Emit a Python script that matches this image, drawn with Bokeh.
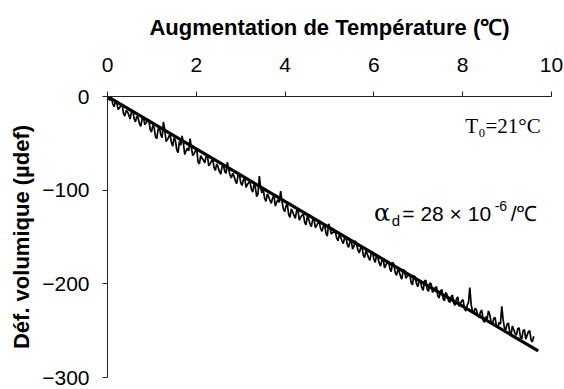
from bokeh.plotting import figure
from bokeh.models import Range1d, Label, FixedTicker
from bokeh.embed import file_html
from bokeh.resources import INLINE

# ---- data ----
temp_rise = [
    0.00, 0.03, 0.06, 0.09, 0.12, 0.15, 0.18, 0.21, 0.24, 0.27,
    0.30, 0.33, 0.36, 0.39, 0.42, 0.45, 0.48, 0.51, 0.54, 0.57,
    0.60, 0.63, 0.66, 0.69, 0.72, 0.75, 0.78, 0.81, 0.84, 0.87,
    0.90, 0.93, 0.96, 0.99, 1.02, 1.05, 1.08, 1.11, 1.14, 1.17,
    1.20, 1.23, 1.26, 1.29, 1.32, 1.35, 1.38, 1.41, 1.44, 1.47,
    1.50, 1.53, 1.56, 1.59, 1.62, 1.65, 1.68, 1.71, 1.74, 1.77,
    1.80, 1.83, 1.86, 1.89, 1.92, 1.95, 1.98, 2.01, 2.04, 2.07,
    2.10, 2.13, 2.16, 2.19, 2.22, 2.25, 2.28, 2.31, 2.34, 2.37,
    2.40, 2.43, 2.46, 2.49, 2.52, 2.55, 2.58, 2.61, 2.64, 2.67,
    2.70, 2.73, 2.76, 2.79, 2.82, 2.85, 2.88, 2.91, 2.94, 2.97,
    3.00, 3.03, 3.06, 3.09, 3.12, 3.15, 3.18, 3.21, 3.24, 3.27,
    3.30, 3.33, 3.36, 3.39, 3.42, 3.45, 3.48, 3.51, 3.54, 3.57,
    3.60, 3.63, 3.66, 3.69, 3.72, 3.75, 3.78, 3.81, 3.84, 3.87,
    3.90, 3.93, 3.96, 3.99, 4.02, 4.05, 4.08, 4.11, 4.14, 4.17,
    4.20, 4.23, 4.26, 4.29, 4.32, 4.35, 4.38, 4.41, 4.44, 4.47,
    4.50, 4.53, 4.56, 4.59, 4.62, 4.65, 4.68, 4.71, 4.74, 4.77,
    4.80, 4.83, 4.86, 4.89, 4.92, 4.95, 4.98, 5.01, 5.04, 5.07,
    5.10, 5.13, 5.16, 5.19, 5.22, 5.25, 5.28, 5.31, 5.34, 5.37,
    5.40, 5.43, 5.46, 5.49, 5.52, 5.55, 5.58, 5.61, 5.64, 5.67,
    5.70, 5.73, 5.76, 5.79, 5.82, 5.85, 5.88, 5.91, 5.94, 5.97,
    6.00, 6.03, 6.06, 6.09, 6.12, 6.15, 6.18, 6.21, 6.24, 6.27,
    6.30, 6.33, 6.36, 6.39, 6.42, 6.45, 6.48, 6.51, 6.54, 6.57,
    6.60, 6.63, 6.66, 6.69, 6.72, 6.75, 6.78, 6.81, 6.84, 6.87,
    6.90, 6.93, 6.96, 6.99, 7.02, 7.05, 7.08, 7.11, 7.14, 7.17,
    7.20, 7.23, 7.26, 7.29, 7.32, 7.35, 7.38, 7.41, 7.44, 7.47,
    7.50, 7.53, 7.56, 7.59, 7.62, 7.65, 7.68, 7.71, 7.74, 7.77,
    7.80, 7.83, 7.86, 7.89, 7.92, 7.95, 7.98, 8.01, 8.04, 8.07,
    8.10, 8.13, 8.16, 8.19, 8.22, 8.25, 8.28, 8.31, 8.34, 8.37,
    8.40, 8.43, 8.46, 8.49, 8.52, 8.55, 8.58, 8.61, 8.64, 8.67,
    8.70, 8.73, 8.76, 8.79, 8.82, 8.85, 8.88, 8.91, 8.94, 8.97,
    9.00, 9.03, 9.06, 9.09, 9.12, 9.15, 9.18, 9.21, 9.24, 9.27,
    9.30, 9.33, 9.36, 9.39, 9.42, 9.45, 9.48, 9.51, 9.54, 9.57,
    9.60]
vol_strain = [
    0, -3, -4, -2, -8, -11, -5, -7, -14, -12,
    -10, -9, -18, -21, -15, -16, -20, -24, -16, -15,
    -24, -27, -21, -23, -29, -32, -24, -22, -30, -28,
    -26, -25, -35, -38, -31, -33, -43, -45, -35, -33,
    -41, -44, -27, -36, -48, -46, -43, -40, -49, -53,
    -44, -47, -57, -60, -48, -52, -42, -50, -62, -58,
    -55, -58, -45, -55, -63, -61, -58, -56, -70, -72,
    -63, -66, -68, -71, -64, -63, -74, -72, -69, -67,
    -76, -79, -72, -75, -80, -83, -75, -73, -80, -82,
    -70, -78, -84, -87, -82, -85, -90, -93, -84, -83,
    -92, -95, -89, -87, -97, -94, -92, -91, -99, -102,
    -94, -97, -107, -104, -85, -98, -103, -100, -109, -112,
    -104, -107, -111, -114, -108, -106, -117, -113, -110, -113,
    -101, -112, -120, -123, -117, -115, -126, -129, -120, -123,
    -127, -130, -122, -121, -132, -129, -127, -125, -134, -137,
    -128, -131, -136, -139, -132, -130, -140, -138, -135, -134,
    -141, -144, -139, -137, -146, -149, -136, -140, -147, -145,
    -145, -144, -151, -154, -148, -150, -154, -157, -151, -150,
    -158, -161, -155, -154, -163, -160, -154, -158, -164, -167,
    -162, -160, -169, -172, -165, -168, -172, -175, -167, -166,
    -174, -177, -169, -172, -178, -181, -175, -174, -183, -180,
    -177, -176, -184, -187, -177, -179, -188, -191, -185, -187,
    -192, -195, -185, -186, -194, -192, -191, -190, -199, -201,
    -191, -193, -200, -203, -196, -198, -204, -207, -197, -196,
    -206, -208, -199, -200, -209, -207, -204, -203, -213, -215,
    -208, -206, -216, -218, -209, -212, -218, -220, -214, -212,
    -221, -223, -216, -214, -224, -221, -218, -217, -227, -229,
    -223, -220, -204, -222, -229, -231, -226, -228, -234, -236,
    -230, -228, -239, -241, -235, -238, -229, -233, -241, -243,
    -237, -236, -245, -247, -241, -243, -224, -238, -247, -249,
    -243, -242, -252, -254, -245, -249, -253, -255, -248, -247,
    -257, -259, -250, -249, -259, -255, -251, -250, -260, -262,
    -256]
fit_x = [0.0, 9.7]
fit_y = [0.0, -271.6]
x_ticks = [0, 2, 4, 6, 8, 10]
y_ticks = [-300, -200, -100, 0]

SANS = "Liberation Sans"
SERIF = "Liberation Serif"

p = figure(width=564, height=389, output_backend="svg", toolbar_location=None,
           x_range=Range1d(0, 10), y_range=Range1d(-300, 0),
           x_axis_location="above",
           min_border_left=107, min_border_right=13, min_border_top=96,
           min_border_bottom=12)
p.outline_line_color = None
p.xgrid.visible = False
p.ygrid.visible = False
p.background_fill_color = "white"
p.border_fill_color = "white"

for ax in (p.xaxis[0], p.yaxis[0]):
    ax.major_label_text_font = SANS
    ax.major_label_text_font_size = "21px"
    ax.major_label_text_color = "black"
    ax.axis_label_text_font = SANS
    ax.axis_label_text_font_size = "22px"
    ax.axis_label_text_font_style = "bold"
    ax.axis_label_text_color = "black"
    ax.axis_line_color = "#222222"
    ax.major_tick_line_color = "#222222"
    ax.major_tick_in = 0
    ax.major_tick_out = 5
    ax.minor_tick_line_color = None

p.xaxis[0].ticker = FixedTicker(ticks=x_ticks)
p.yaxis[0].ticker = FixedTicker(ticks=y_ticks)
p.xaxis[0].axis_label = "Augmentation de Température (℃)"
p.yaxis[0].axis_label = "Déf. volumique (µdef)"
p.xaxis[0].major_label_standoff = 20
p.xaxis[0].axis_label_standoff = 15
p.yaxis[0].major_label_standoff = 13
p.yaxis[0].axis_label_standoff = 5

p.line(temp_rise, vol_strain, line_color="black", line_width=1.7)
p.line(fit_x, fit_y, line_color="black", line_width=3.2)

# annotations
p.add_layout(Label(x=8.06, y=-32.0, text="T₀=21°C", text_font=SERIF,
                   text_font_size="21px", text_color="black",
                   text_baseline="alphabetic", text_align="left"))
p.add_layout(Label(x=6.00, y=-124.9, text="α", text_font="DejaVu Serif",
                   text_font_size="24px", text_color="black",
                   text_baseline="alphabetic", text_align="left"))
p.add_layout(Label(x=6.40, y=-132.4, text="d", text_font=SANS,
                   text_font_size="15px", text_color="black",
                   text_baseline="alphabetic", text_align="left"))
p.add_layout(Label(x=6.64, y=-124.9, text="= 28 × 10", text_font=SANS,
                   text_font_size="21px", text_color="black",
                   text_baseline="alphabetic", text_align="left"))
p.add_layout(Label(x=8.72, y=-117.4, text="-6", text_font=SANS,
                   text_font_size="14px", text_color="black",
                   text_baseline="alphabetic", text_align="left"))
p.add_layout(Label(x=9.08, y=-124.9, text="/℃", text_font=SANS,
                   text_font_size="21px", text_color="black",
                   text_baseline="alphabetic", text_align="left"))

open("out.html", "w").write(file_html(p, INLINE))
